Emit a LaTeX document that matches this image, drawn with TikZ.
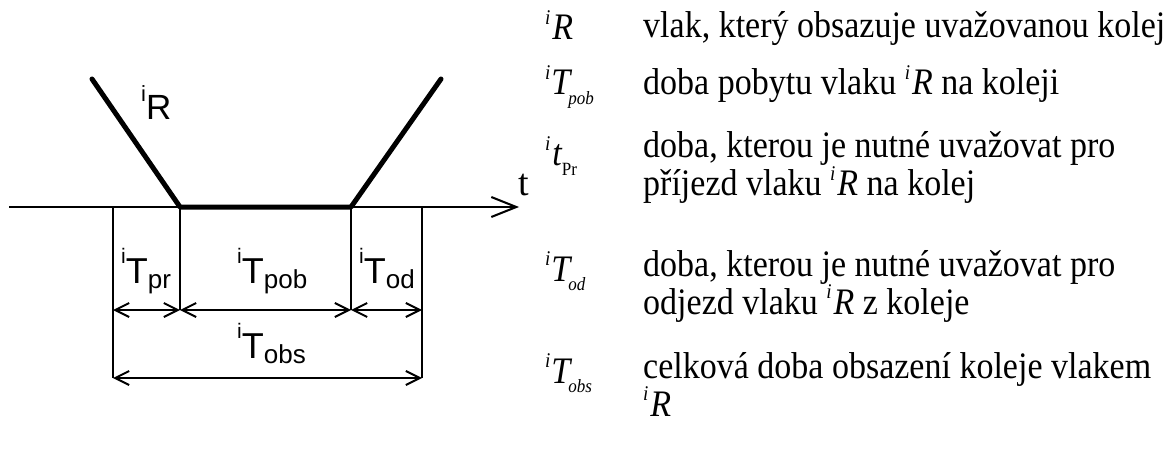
\documentclass[tikz,border=0pt]{standalone}
\usepackage{graphicx}
\usepackage{fontspec}
\setmainfont{Liberation Serif}
\newfontfamily\arialfont{Liberation Sans}
\usetikzlibrary{arrows.meta}

% interval label in the sketch: ^iT_{sub}
\newcommand\intlabel[1]{{\arialfont\fontsize{36}{36}\selectfont
  \raisebox{20pt}{\fontsize{21}{21}\selectfont i}T\raisebox{-5pt}{\fontsize{26}{26}\selectfont #1}}}
% symbols of the legend
\newcommand\trainR{{\itshape\raisebox{14pt}{\fontsize{19}{19}\selectfont i}\kern2pt R}}
\newcommand\symT[1]{{\itshape\raisebox{14pt}{\fontsize{19}{19}\selectfont i}\kern1pt T\kern-2pt\raisebox{-9pt}{\fontsize{17}{17}\selectfont #1}}}
\newcommand\symt{{\itshape\raisebox{14pt}{\fontsize{19}{19}\selectfont i}\kern2pt t\raisebox{-9pt}{\fontsize{17}{17}\selectfont\upshape Pr}}}
% slightly tall setting of the legend lines
\newcommand\tall[1]{\scalebox{1}[1.1]{#1}}

\tikzset{
  train/.style={line width=5pt, line cap=round, line join=round},
  thin/.style={line width=2pt},
  dimline/.style={line width=2pt, {Straight Barb[length=14pt,width=14pt,line width=2pt]}-{Straight Barb[length=14pt,width=14pt,line width=2pt]}},
  lbl/.style={inner sep=0pt, anchor=base west},
  legend/.style={inner sep=0pt, anchor=base west, font=\fontsize{34}{35}\selectfont},
}

\begin{document}
\begin{tikzpicture}[x=1pt,y=-1pt]
\useasboundingbox (0,0) rectangle (1166,457);

% time axis
\coordinate (a0) at (9,207);
\coordinate (a1) at (519,207);
\draw[thin, -{Straight Barb[length=25pt,width=20pt,line width=2pt]}] (a0) -- (a1);
\node[lbl] (t) at (518,195) {\fontsize{38}{38}\selectfont t};

% train path
\coordinate (r0) at (92,79);
\coordinate (r1) at (180,207);
\coordinate (r2) at (351,207);
\coordinate (r3) at (441,79);
\draw[train] (r0) -- (r1) -- (r2) -- (r3);
\node[lbl] (lR) at (141,120) {\arialfont\fontsize{35}{35}\selectfont\raisebox{18pt}{\fontsize{22}{22}\selectfont i}R};

% extension lines
\coordinate (v0) at (113,207);
\coordinate (v0b) at (113,378);
\coordinate (v1b) at (180,310);
\coordinate (v2b) at (351,310);
\coordinate (v3) at (422,207);
\coordinate (v3b) at (422,378);
\draw[thin] (v0) -- (v0b);
\draw[thin] (r1) -- (v1b);
\draw[thin] (r2) -- (v2b);
\draw[line width=2.6pt] (v3) -- (v3b);

% dimension arrows
\coordinate (d0) at (113,310);
\coordinate (d3) at (422,310);
\draw[dimline] (d0) -- (v1b);
\draw[dimline] (v1b) -- (v2b);
\draw[dimline] (v2b) -- (d3);
\draw[dimline] (v0b) -- (v3b);

\node[lbl] (Tpr) at (121,283) {\intlabel{pr}};
\node[lbl] (Tpob) at (237,283) {\intlabel{pob}};
\node[lbl] (Tod) at (359,283) {\intlabel{od}};
\node[lbl] (Tobs) at (237,358) {\intlabel{obs}};

% legend: symbols
\node[legend] (s1) at (545,40) {\tall{\trainR}};
\node[legend] (s2) at (545,95) {\tall{\symT{pob}}};
\node[legend] (s3) at (545,166) {\tall{\symt}};
\node[legend] (s4) at (545,281) {\tall{\symT{od}}};
\node[legend] (s5) at (545,383) {\tall{\symT{obs}}};

% legend: explanations
\node[legend] (e1) at (643,38) {\tall{vlak, který obsazuje uvažovanou kolej}};
\node[legend] (e2) at (643,95) {\tall{doba pobytu vlaku \trainR{} na koleji}};
\node[legend] (e3a) at (643,158) {\tall{doba, kterou je nutné uvažovat pro}};
\node[legend] (e3b) at (643,196) {\tall{příjezd vlaku \trainR{} na kolej}};
\node[legend] (e4a) at (643,276) {\tall{doba, kterou je nutné uvažovat pro}};
\node[legend] (e4b) at (643,314) {\tall{odjezd vlaku \trainR{} z koleje}};
\node[legend] (e5a) at (643,378) {\tall{celková doba obsazení koleje vlakem}};
\node[legend] (e5b) at (643,416) {\tall{\trainR}};
\end{tikzpicture}
\end{document}
